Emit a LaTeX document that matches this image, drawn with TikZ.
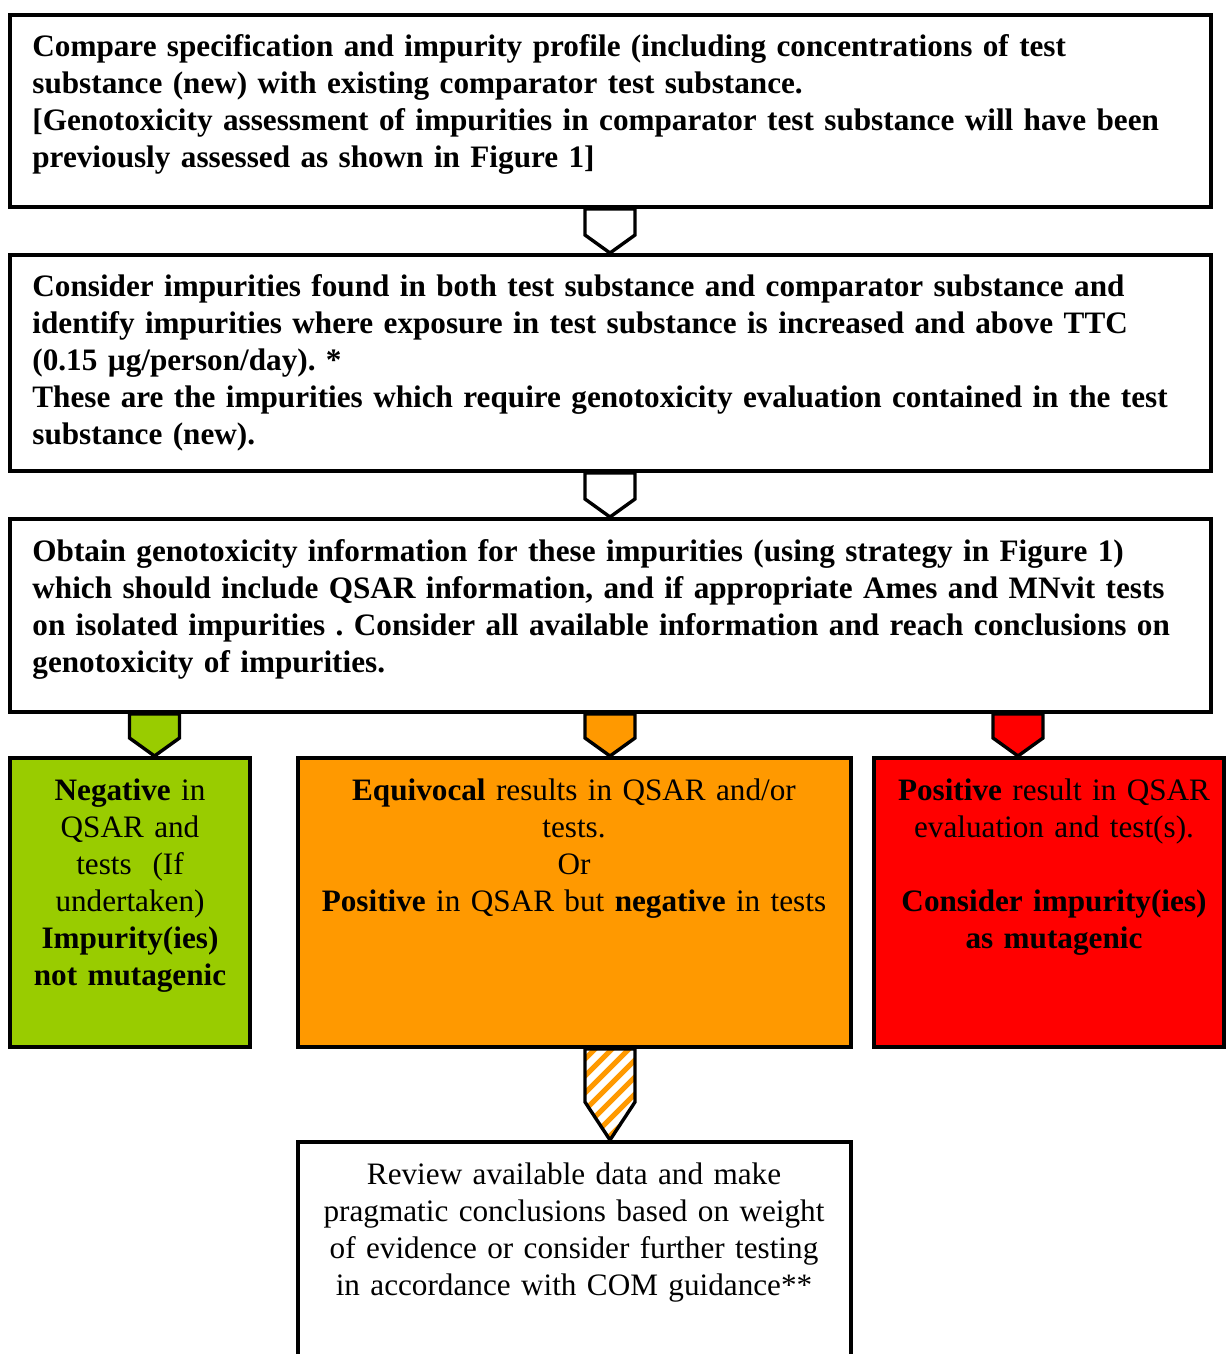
\documentclass[tikz,border=0pt]{standalone}
\usepackage{fontspec}
\setmainfont{Liberation Serif}
\usetikzlibrary{fit,calc}
\definecolor{gr}{HTML}{99CC00}
\definecolor{og}{HTML}{FF9900}
\definecolor{rd}{HTML}{FF0000}
\newcommand{\arrowpath}[4]{($(#2.south -| #1)+(-25,0)$) -- ($(#3.north -| #1)+(-25,-#4)$) -- (#3.north -| #1) -- ($(#3.north -| #1)+(25,-#4)$) -- ($(#2.south -| #1)+(25,0)$) -- cycle}
\begin{document}
\frenchspacing
\begin{tikzpicture}[x=0.5pt,y=-0.5pt,
  box/.style={draw=black, line width=2pt, inner sep=0pt},
  txt/.style={inner sep=0pt, font=\fontsize{15.6}{18.5}\selectfont\frenchspacing},
  btxt/.style={inner sep=0pt, font=\fontsize{15.6}{18.5}\selectfont\bfseries\frenchspacing},
  barrow/.style={draw=black, line width=1.7pt, line join=miter}]
\clip (0,0) rectangle (1226,1354);
\fill[white] (0,0) rectangle (1226,1354);
% boxes
\node[box, fit={(10,15)(1211,207)}] (b1) {};
\node[box, fit={(10,255)(1211,471)}] (b2) {};
\node[box, fit={(10,519)(1211,712)}] (b3) {};
\node[box, fill=gr, fit={(10,758)(250,1047)}] (g) {};
\node[box, fill=og, fit={(298,758)(851,1047)}] (o) {};
\node[box, fill=rd, fit={(874,758)(1224,1047)}] (r) {};
\node[box, fit={(298,1142)(851,1400)}] (f) {};
% arrow axes
\coordinate (xa) at (610,0);
\coordinate (xg) at (154.5,0);
\coordinate (xr) at (1018,0);
% block arrows
\draw[barrow, fill=white] \arrowpath{xa}{b1}{b2}{18};
\draw[barrow, fill=white] \arrowpath{xa}{b2}{b3}{18};
\draw[barrow, fill=gr] \arrowpath{xg}{b3}{g}{18};
\draw[barrow, fill=og] \arrowpath{xa}{b3}{o}{18};
\draw[barrow, fill=rd] \arrowpath{xr}{b3}{r}{18};
\begin{scope}
  \clip \arrowpath{xa}{o}{f}{38};
  \fill[white] \arrowpath{xa}{o}{f}{38};
  \foreach \c in {1610,1627,...,1800}
    \draw[og, line width=2.6pt] (\c-1150,1150) -- ++(200,-200);
\end{scope}
\draw[barrow] \arrowpath{xa}{o}{f}{38};
% texts
\node[btxt, anchor=base west, text width=590pt, align=left] (t1) at (32,57) {Compare specification and impurity profile (including concentrations of test\\
substance (new) with existing comparator test substance.\\
{[}Genotoxicity assessment of impurities in comparator test substance will have been\\
previously assessed as shown in Figure 1]};
\node[btxt, anchor=base west, text width=590pt, align=left] (t2) at (32,296) {Consider impurities found in both test substance and comparator substance and\\
identify impurities where exposure in test substance is increased and above TTC\\
(0.15 µg/person/day). *\\
These are the impurities which require genotoxicity evaluation contained in the test\\
substance (new).};
\node[btxt, anchor=base west, text width=590pt, align=left] (t3) at (32,561) {Obtain genotoxicity information for these impurities (using strategy in Figure 1)\\
which should include QSAR information, and if appropriate Ames and MNvit tests\\
on isolated impurities . Consider all available information and reach conclusions on\\
genotoxicity of impurities.};
\node[txt, anchor=base, text width=118pt, align=center] (tg) at (130,800) {\textbf{Negative} in\\
QSAR and\\
tests\ \ (If\\
undertaken)\\
\textbf{Impurity(ies)}\\
\textbf{not mutagenic}};
\node[txt, anchor=base, text width=272pt, align=center] (to) at (574,800) {\textbf{Equivocal} results in QSAR and/or\\
tests.\\
Or\\
\textbf{Positive} in QSAR but \textbf{negative} in tests};
\node[txt, anchor=base, text width=172pt, align=center] (tr) at (1054,800) {\textbf{Positive} result in QSAR\\
evaluation and test(s).\\[18.5pt]
\textbf{Consider impurity(ies)}\\
\textbf{as mutagenic}};
\node[txt, anchor=base, text width=272pt, align=center] (tf) at (574,1184) {Review available data and make\\
pragmatic conclusions based on weight\\
of evidence or consider further testing\\
in accordance with COM guidance**};
\end{tikzpicture}
\end{document}
